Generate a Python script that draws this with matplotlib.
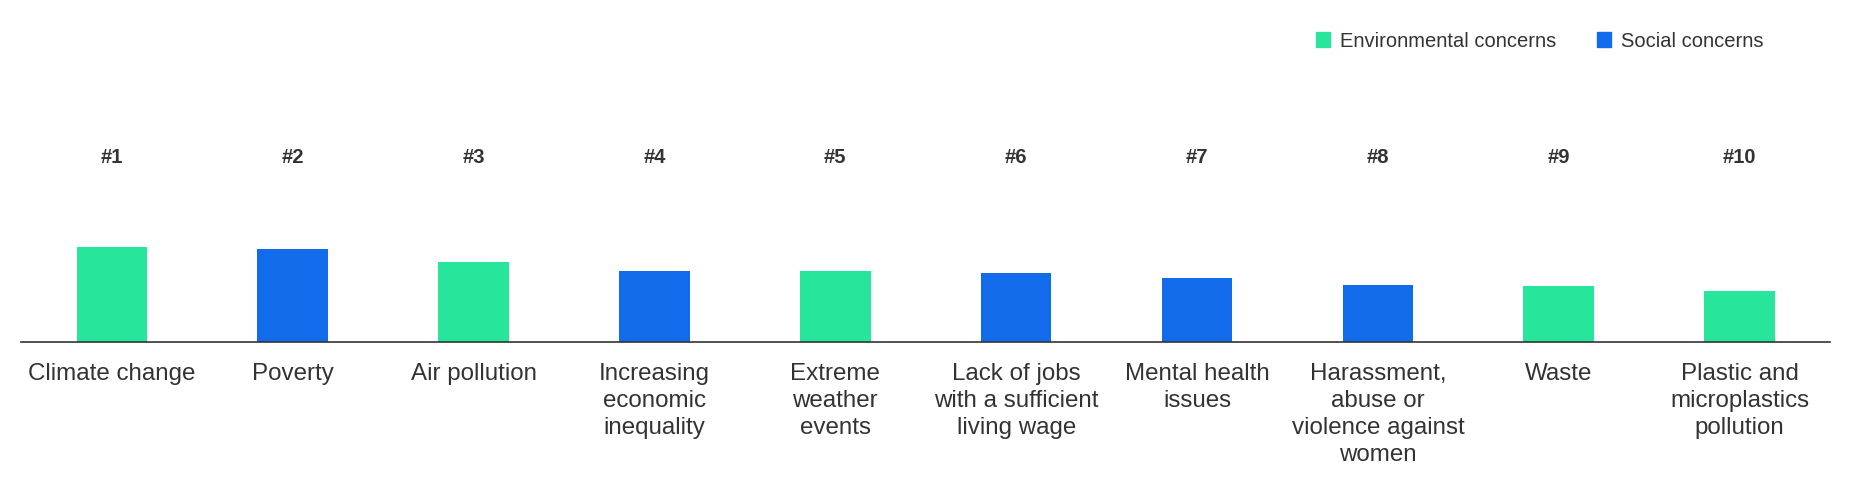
import numpy as np
import matplotlib.pyplot as plt
from matplotlib.patches import Patch

plt.rcParams['font.family'] = ['Liberation Sans', 'DejaVu Sans']

# Данные (значения оценены по высоте столбцов)
categories = ['Climate change', 'Poverty', 'Air pollution',
              'Increasing\neconomic\ninequality', 'Extreme\nweather\nevents',
              'Lack of jobs\nwith a sufficient\nliving wage', 'Mental health\nissues',
              'Harassment,\nabuse or\nviolence against\nwomen', 'Waste',
              'Plastic and\nmicroplastics\npollution']
values = [80, 78, 67, 60, 60, 58, 54, 48, 47, 43]
kinds = ['env', 'soc', 'env', 'soc', 'env', 'soc', 'soc', 'soc', 'env', 'env']
ranks = ['#%d' % (i + 1) for i in range(len(categories))]

colors = {'env': '#27E59B', 'soc': '#116BEB'}
text_color = '#333333'

fig = plt.figure(figsize=(18.57, 4.94), dpi=100)
ax = fig.add_axes([0.0115, 0.3077, 0.974, 0.453])

x = np.arange(len(categories))
ax.bar(x, values, width=0.39, color=[colors[k] for k in kinds])
ax.set_xlim(-0.5, len(categories) - 0.5)
ax.set_ylim(0, 188)

# Ранги над столбцами
for xi, r in zip(x, ranks):
    ax.text(xi, 0.826, r, transform=ax.get_xaxis_transform(), ha='center', va='center',
            fontsize=14.5, fontweight='bold', color=text_color)

ax.set_xticks(x)
ax.set_xticklabels(categories, fontsize=17.4, color=text_color, linespacing=1.29)
ax.tick_params(axis='x', length=0, pad=15)
ax.set_yticks([])
for s in ['top', 'right', 'left']:
    ax.spines[s].set_visible(False)
ax.spines['bottom'].set_color('#333333')
ax.spines['bottom'].set_linewidth(1.2)

handles = [Patch(color=colors['env'], label='Environmental concerns'),
           Patch(color=colors['soc'], label='Social concerns')]
fig.legend(handles=handles, loc='center right', bbox_to_anchor=(0.9595, 0.917), ncol=2,
           frameon=False, fontsize=14.5, handlelength=0.7, handleheight=0.7,
           handletextpad=0.5, columnspacing=2.0, labelcolor=text_color)

fig.savefig('out.png', dpi=100)
